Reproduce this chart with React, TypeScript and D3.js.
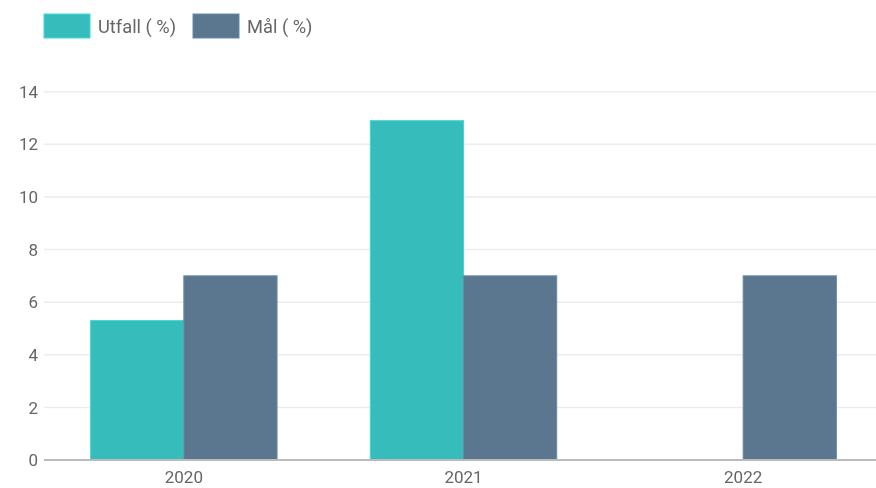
import React, { useEffect, useRef } from 'react';
import * as d3 from 'd3';

const years = ['2020', '2021', '2022'];
const seriesNames = ['Utfall ( %)', 'Mål ( %)'];
const utfall: (number | null)[] = [5.3, 12.9, null];
const maal: (number | null)[] = [7, 7, 7];
const yTicks = [0, 2, 4, 6, 8, 10, 12, 14];
const colors = ['#37bcbc', '#5b778f'];

const App = () => {
  const svgRef = useRef<SVGSVGElement>(null);

  useEffect(() => {
    const svg = d3.select(svgRef.current);
    svg.selectAll('*').remove();
    const width = 876;
    const height = 488;
    const left = 44;
    const top = 91.7;
    const bottom = 460;

    const x0 = d3.scaleBand().domain(years).range([left, 883]).padding(0);
    const x1 = d3.scaleBand().domain(seriesNames).range([0, x0.bandwidth()])
      .paddingInner(0).paddingOuter(0.5);
    const y = d3.scaleLinear().domain([0, 14]).range([bottom, top]);

    svg.attr('width', width).attr('height', height)
      .style('font-family', 'Roboto, sans-serif');

    // grid
    svg.append('g').selectAll('line')
      .data(yTicks.filter(t => t > 0))
      .enter().append('line')
      .attr('x1', left).attr('x2', width)
      .attr('y1', d => y(d)).attr('y2', d => y(d))
      .attr('stroke', '#e9edf1').attr('stroke-width', 1.5);

    svg.append('g').selectAll('text')
      .data(yTicks)
      .enter().append('text')
      .attr('x', 38).attr('y', d => y(d))
      .attr('dy', '0.36em')
      .attr('text-anchor', 'end')
      .attr('fill', '#666')
      .attr('font-size', 17)
      .text(d => d);

    const rows = years.map((yr, i) => ({ year: yr, values: [utfall[i], maal[i]] }));

    const groups = svg.append('g').selectAll('g')
      .data(rows)
      .enter().append('g')
      .attr('transform', d => `translate(${x0(d.year)},0)`);

    groups.selectAll('rect')
      .data(d => d.values.map((v, k) => ({ key: seriesNames[k], v, k })).filter(e => e.v != null))
      .enter().append('rect')
      .attr('x', d => x1(d.key)!)
      .attr('width', x1.bandwidth())
      .attr('y', d => y(d.v as number))
      .attr('height', d => bottom - y(d.v as number))
      .attr('fill', d => colors[d.k])
      .attr('stroke', d => d3.color(colors[d.k])!.brighter(0.4).toString())
      .attr('stroke-width', 1);

    // baseline
    svg.append('line')
      .attr('x1', left).attr('x2', width)
      .attr('y1', bottom).attr('y2', bottom)
      .attr('stroke', '#bbbbbb').attr('stroke-width', 2);

    svg.append('g').selectAll('text')
      .data(years)
      .enter().append('text')
      .attr('x', d => x0(d)! + x0.bandwidth() / 2)
      .attr('y', 483)
      .attr('text-anchor', 'middle')
      .attr('fill', '#666')
      .attr('font-size', 17)
      .text(d => d);

    // legend
    const legendX = [44, 193];
    const legend = svg.append('g').selectAll('g')
      .data(seriesNames)
      .enter().append('g')
      .attr('transform', (d, i) => `translate(${legendX[i]},14)`);
    legend.append('rect')
      .attr('width', 46).attr('height', 24)
      .attr('fill', (d, i) => colors[i])
      .attr('stroke', (d, i) => d3.color(colors[i])!.brighter(0.4).toString());
    legend.append('text')
      .attr('x', 54).attr('y', 12).attr('dy', '0.36em')
      .attr('fill', '#666').attr('font-size', 18.3)
      .text(d => d);
  }, []);

  return (
    <div style={{ position: 'fixed', left: 0, top: 0 }}>
      <svg ref={svgRef}></svg>
    </div>
  );
};

export default App;
